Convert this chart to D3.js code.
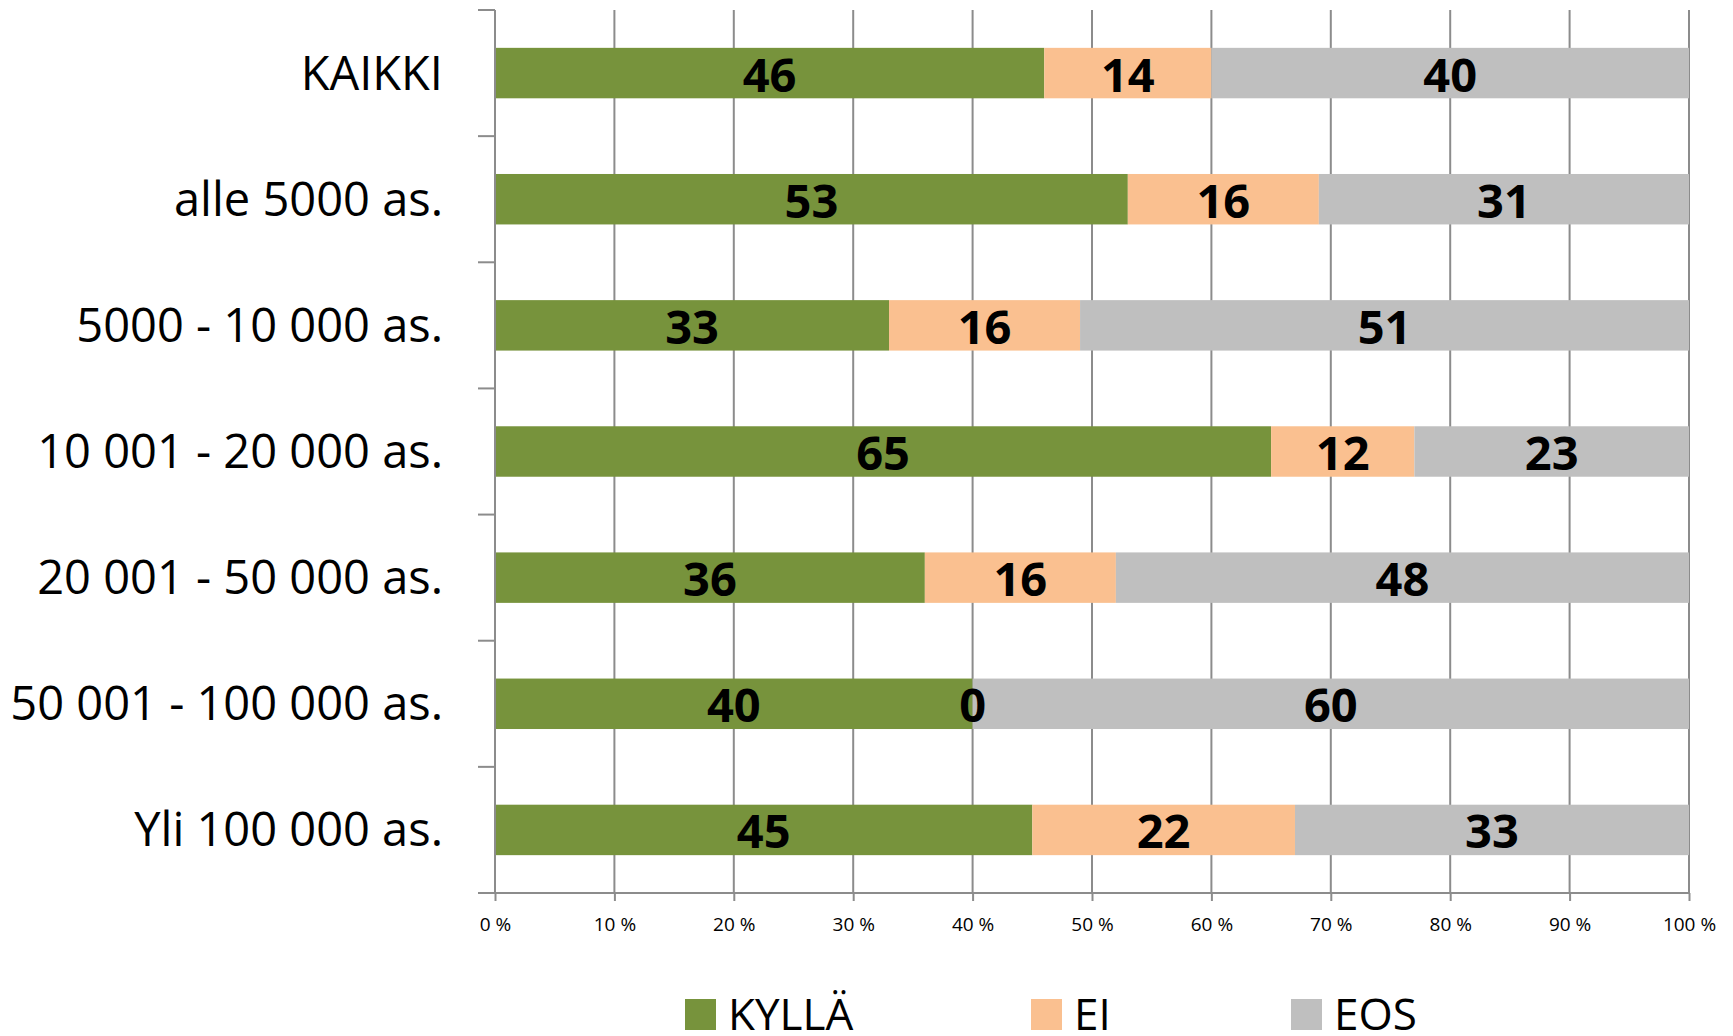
<!DOCTYPE html>
<html>
<head>
<meta charset="utf-8">
<script src="https://cdn.jsdelivr.net/npm/d3@7"></script>
<style>
  html, body { margin: 0; padding: 0; background: #fff; overflow: hidden; }
  svg { display: block; font-family: "Open Sans", "Liberation Sans", sans-serif; }
</style>
</head>
<body>
<svg id="chart" width="1733" height="1036"></svg>
<script>
const categories = ["KAIKKI", "alle 5000 as.", "5000 - 10 000 as.", "10 001 - 20 000 as.", "20 001 - 50 000 as.", "50 001 - 100 000 as.", "Yli 100 000 as."];
const seriesNames = ["KYLLÄ", "EI", "EOS"];
const kylla = [46, 53, 33, 65, 36, 40, 45];
const ei    = [14, 16, 16, 12, 16, 0, 22];
const eos   = [40, 31, 51, 23, 48, 60, 33];
const xTicks = [0, 10, 20, 30, 40, 50, 60, 70, 80, 90, 100];
const colors = ["#77933C", "#FAC090", "#BFBFBF"];

const svg = d3.select("#chart");
const x = d3.scaleLinear().domain([0, 100]).range([495, 1689]);
const y = d3.scaleBand().domain(categories).range([10, 893]).paddingInner(0.6).paddingOuter(0.3);
const gridColor = "#8c8c8c";

// gridlines
svg.append("g").selectAll("line").data(xTicks).join("line")
  .attr("x1", d => x(d)).attr("x2", d => x(d))
  .attr("y1", 10).attr("y2", 893)
  .attr("stroke", gridColor).attr("stroke-width", 2);

// stacked data
const rows = categories.map((c, i) => ({cat: c, KYLLÄ: kylla[i], EI: ei[i], EOS: eos[i]}));
const stack = d3.stack().keys(seriesNames)(rows);

const layers = svg.append("g").selectAll("g").data(stack).join("g")
  .attr("fill", (d, i) => colors[i]);
layers.selectAll("rect").data(d => d).join("rect")
  .attr("x", d => x(d[0]))
  .attr("width", d => x(d[1]) - x(d[0]))
  .attr("y", d => y(d.data.cat))
  .attr("height", y.bandwidth());

// left axis line + category ticks
const step = y.step();
const y0 = y.range()[0];
const bounds = d3.range(categories.length + 1).map(i => y0 + i * step);
svg.append("line").attr("x1", x(0)).attr("x2", x(0)).attr("y1", 10).attr("y2", 893)
  .attr("stroke", gridColor).attr("stroke-width", 2);
svg.append("g").selectAll("line").data(bounds).join("line")
  .attr("x1", x(0) - 17).attr("x2", x(0))
  .attr("y1", d => d).attr("y2", d => d)
  .attr("stroke", gridColor).attr("stroke-width", 2);

// bottom axis
const xAxis = d3.axisBottom(x).tickValues(xTicks).tickFormat(d => d + " %").tickSize(8).tickSizeOuter(0);
const gx = svg.append("g").attr("transform", "translate(0,893)").call(xAxis);
gx.select(".domain").attr("stroke", gridColor).attr("stroke-width", 2).attr("d", `M${x(0) - 17},0H${x(100)}`);
gx.selectAll(".tick line").attr("stroke", gridColor).attr("stroke-width", 2);
gx.selectAll(".tick text").attr("y", 38).attr("dy", 0)
  .attr("font-size", 19).attr("fill", "#000")
  .attr("font-family", "'Open Sans', sans-serif");

// category labels
svg.append("g").selectAll("text").data(categories).join("text")
  .attr("x", 443)
  .attr("y", d => y(d) + y.bandwidth() / 2 + 16.5)
  .attr("text-anchor", "end")
  .attr("font-size", 47)
  .attr("fill", "#000")
  .text(d => d);

// data labels (drawn above all bars)
const labelG = svg.append("g");
stack.forEach(layer => {
  labelG.append("g").selectAll("text").data(layer).join("text")
    .attr("x", d => (x(d[0]) + x(d[1])) / 2)
    .attr("y", d => y(d.data.cat) + y.bandwidth() / 2 + 18.5)
    .attr("text-anchor", "middle")
    .attr("font-size", 47)
    .attr("font-weight", "bold")
    .attr("fill", "#000")
    .text(d => d[1] - d[0]);
});

// legend
const legendX = [685, 1031, 1291];
const lg = svg.append("g").selectAll("g").data(seriesNames).join("g")
  .attr("transform", (d, i) => `translate(${legendX[i]},999)`);
lg.append("rect").attr("width", 31).attr("height", 31).attr("fill", (d, i) => colors[i]);
lg.append("text").attr("x", 43).attr("y", 31).attr("font-size", 44).attr("fill", "#000").text(d => d);
</script>
</body>
</html>
